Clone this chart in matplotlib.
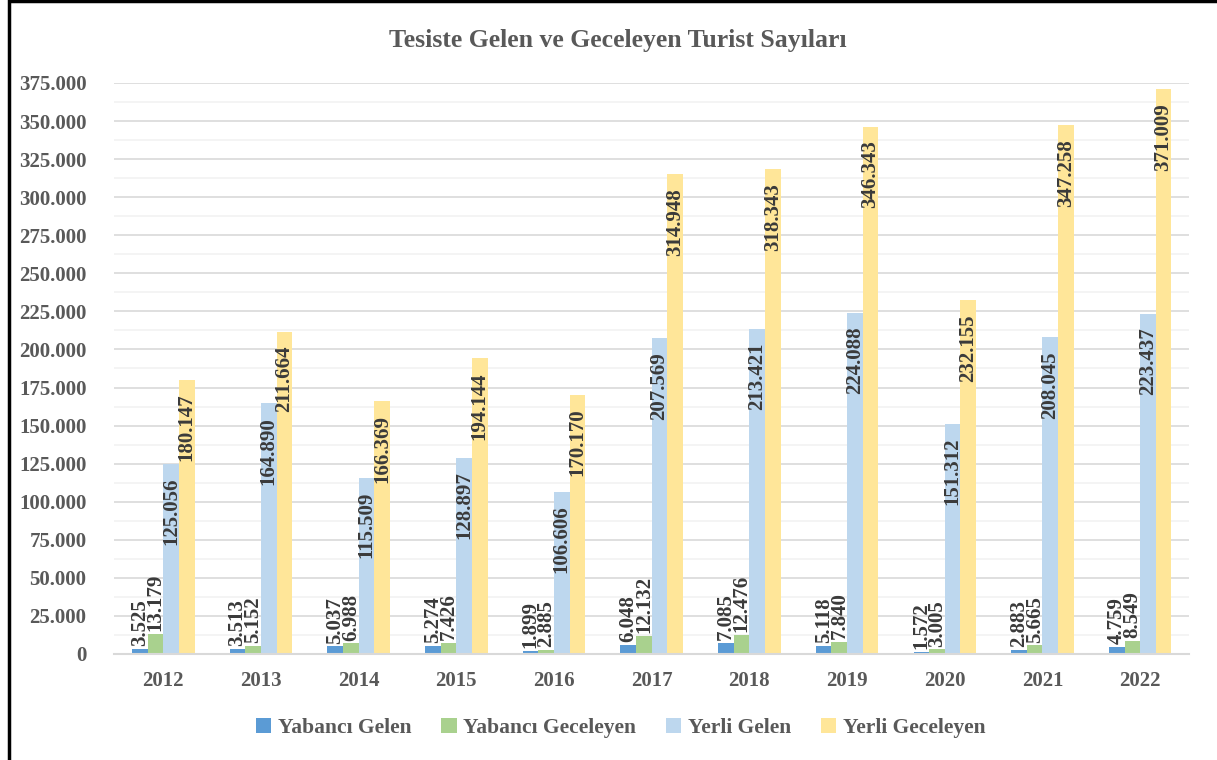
'''Tesiste gelen ve geceleyen turist sayilari

Grouped bar chart of foreign / domestic arrivals and overnight stays,
2012-2022.
'''

# ----------------------------------------------------------------------------
# Modules
from matplotlib import pyplot as plt
from matplotlib.patches import Rectangle
from matplotlib.ticker import FuncFormatter, MultipleLocator
import numpy as np

# ----------------------------------------------------------------------------
# Data

years = ['2012', '2013', '2014', '2015', '2016', '2017', '2018', '2019',
         '2020', '2021', '2022']

yabanci_gelen = [3525, 3513, 5037, 5274, 1899, 6048, 7085, 5118, 1572, 2883,
                 4759]
yabanci_geceleyen = [13179, 5152, 6988, 7426, 2885, 12132, 12476, 7840, 3005,
                     5665, 8549]
yerli_gelen = [125056, 164890, 115509, 128897, 106606, 207569, 213421, 224088,
               151312, 208045, 223437]
yerli_geceleyen = [180147, 211664, 166369, 194144, 170170, 314948, 318343,
                   346343, 232155, 347258, 371009]

series_names = ['Yabancı Gelen', 'Yabancı Geceleyen', 'Yerli Gelen',
                'Yerli Geceleyen']
colors = ['#5B9BD5', '#A9D18E', '#BDD7EE', '#FFE699']

# ----------------------------------------------------------------------------


def tr_thousands(value, pos=None):
    """Formats a number with '.' as thousands separator."""
    return '{:,.0f}'.format(value).replace(',', '.')


def main():

    plt.rcParams['font.family'] = ['Liberation Serif', 'DejaVu Serif']

    fig = plt.figure(figsize=(12.17, 7.6), dpi=100)
    ax = fig.add_axes([0.094, 0.1395, 0.883, 0.7513])

    text_gray = '#595959'
    label_gray = '#3A3A3A'

    all_series = [yabanci_gelen, yabanci_geceleyen, yerli_gelen,
                  yerli_geceleyen]
    x = np.arange(len(years))
    width = 0.16

    for idx, (name, vals, col) in enumerate(zip(series_names, all_series,
                                                colors)):
        pos = x + (idx - 1.5) * width
        ax.bar(pos, vals, width, color=col, label=name, zorder=3)

        for xp, val in zip(pos, vals):
            if val > 50000:
                # inside end
                ax.annotate(tr_thousands(val), (xp, val), xytext=(0, -10),
                            textcoords='offset points', rotation=90,
                            ha='center', va='top', fontsize=15,
                            fontweight='bold', color=label_gray, zorder=4)
            else:
                # outside end
                ax.annotate(tr_thousands(val), (xp, val), xytext=(0, 2),
                            textcoords='offset points', rotation=90,
                            ha='center', va='bottom', fontsize=15,
                            fontweight='bold', color=label_gray, zorder=4)

    ax.set_xlim(-0.5, len(years) - 0.5)
    ax.set_ylim(0, 375000)
    ax.yaxis.set_major_locator(MultipleLocator(25000))
    ax.yaxis.set_minor_locator(MultipleLocator(12500))
    ax.yaxis.set_major_formatter(FuncFormatter(tr_thousands))
    ax.grid(True, which='major', axis='y', color='#D9D9D9', linewidth=1.2,
            zorder=0)
    ax.grid(True, which='minor', axis='y', color='#F2F2F2', linewidth=1.2,
            zorder=0)

    ax.set_xticks(x)
    ax.set_xticklabels(years)
    ax.tick_params(axis='both', which='both', length=0, labelsize=15,
                   labelcolor=text_gray)
    ax.tick_params(axis='y', pad=20)
    ax.tick_params(axis='x', pad=12)
    for lbl in ax.get_xticklabels() + ax.get_yticklabels():
        lbl.set_fontweight('bold')

    for side in ['top', 'right', 'left']:
        ax.spines[side].set_visible(False)
    ax.spines['bottom'].set_color('#D9D9D9')
    ax.spines['bottom'].set_linewidth(1.5)
    ax.spines['bottom'].set_zorder(5)

    fig.text(0.508, 0.947, 'Tesiste Gelen ve Geceleyen Turist Sayıları',
             ha='center', va='center', fontsize=18.5, fontweight='bold',
             color=text_gray)

    leg = fig.legend(loc='center', bbox_to_anchor=(0.51, 0.042), ncol=4,
                     frameon=False, handlelength=0.7, handleheight=0.7,
                     handletextpad=0.3, columnspacing=1.4,
                     prop={'size': 15.5, 'weight': 'bold'})
    for txt in leg.get_texts():
        txt.set_color(text_gray)

    # Chart frame (only the left and top edges are inside the picture)
    fig.patches.append(Rectangle((9 / 1217, -0.1), 1.2, 1.1 - 1.5 / 760,
                                 transform=fig.transFigure, fill=False,
                                 edgecolor='black', linewidth=2.5,
                                 clip_on=False))

    fig.savefig('out.png', dpi=100)

    return None

# ----------------------------------------------------------------------------


if __name__ == '__main__':
    main()
